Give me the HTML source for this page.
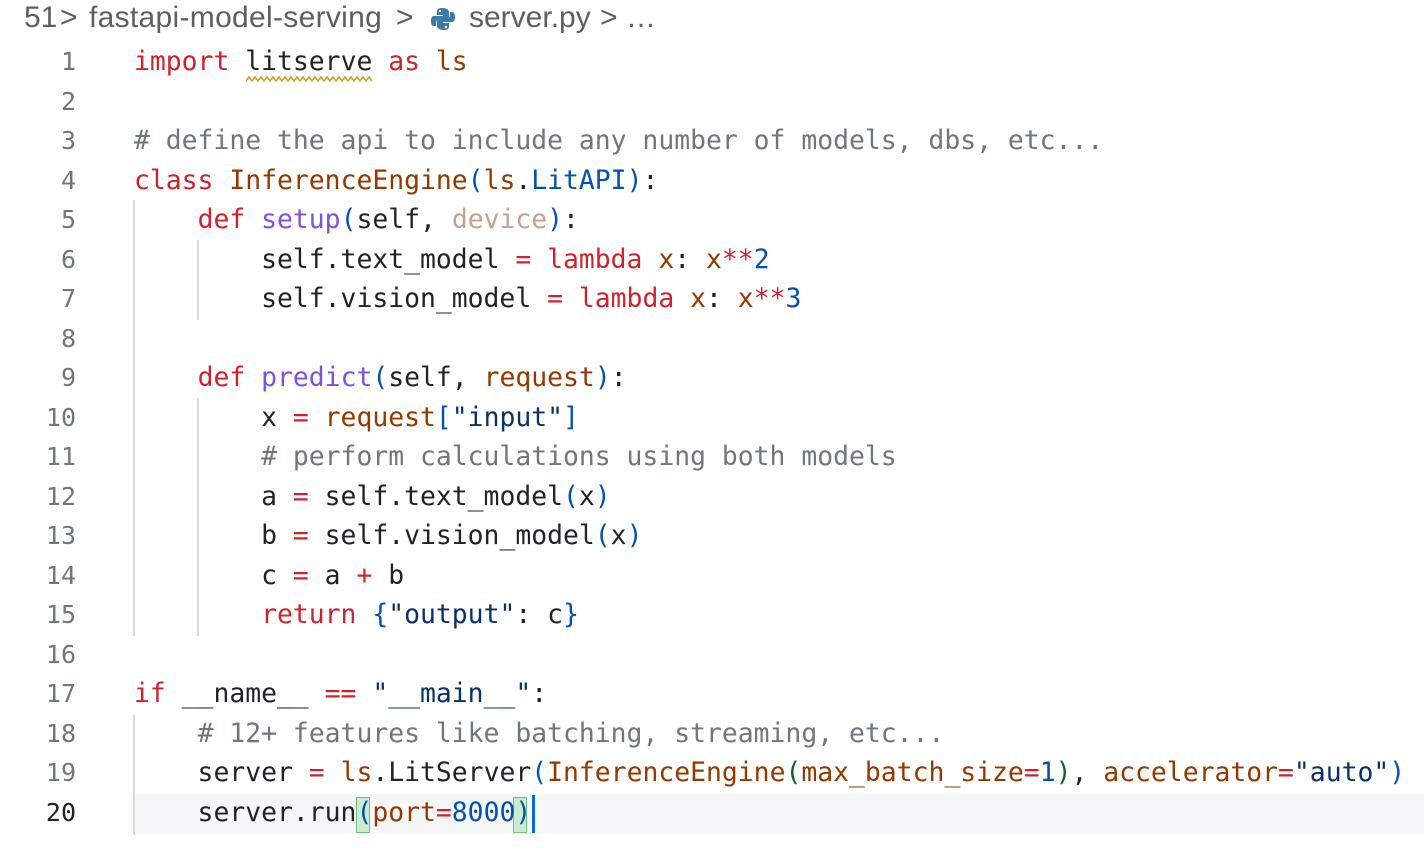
<!DOCTYPE html>
<html><head><meta charset="utf-8"><style>
html,body{margin:0;padding:0;background:#fff;width:1424px;height:848px;overflow:hidden;position:relative}
.bc{position:absolute;top:-1px;font-family:"Liberation Sans",sans-serif;font-size:30px;color:#5f5f5f;white-space:pre;line-height:38px}
.ln{position:absolute;left:0;width:76px;text-align:right;font-family:"DejaVu Sans Mono","Liberation Mono",monospace;font-size:25px;color:#6e7781;line-height:39.5px}
.cl{position:absolute;left:134px;font-family:"DejaVu Sans Mono","Liberation Mono",monospace;font-size:26.4px;color:#1f2328;white-space:pre;line-height:39.5px}
.k{color:#cf222e}.f{color:#953800}.b{color:#0550ae}.s{color:#0a3069}.c{color:#6e7781}.p{color:#8250df}.d{color:#c9a08d}.g{color:#116329}
.guide{position:absolute;width:2px;background:#d8dadd}
</style></head><body>
<div style="position:absolute;left:134px;top:794px;width:1290px;height:40px;background:#f5f6f8"></div>
<div class="bc" style="left:24px">51</div>
<div class="bc" style="left:60px">&gt;</div>
<div class="bc" style="left:89px;letter-spacing:0.3px">fastapi-model-serving</div>
<div class="bc" style="left:396px">&gt;</div>
<svg style="position:absolute;left:430px;top:6px" width="26" height="26" viewBox="0 0 26 26"><path d="M12 2c-5 0-5 2-5 4v3h6v1H4c-3 0-3 4-3 5s0 5 3 5h2v-3c0-2 2-4 4-4h6c2 0 3-1 3-3V6c0-2-2-4-7-4z" fill="#3d7aab"/><path d="M14 24c5 0 5-2 5-4v-3h-6v-1h9c3 0 3-4 3-5s0-5-3-5h-2v3c0 2-2 4-4 4h-6c-2 0-3 1-3 3v4c0 2 2 4 7 4z" fill="#3d7aab"/><circle cx="10" cy="5" r="1.2" fill="#fff"/><circle cx="16" cy="21" r="1.2" fill="#fff"/></svg>
<div class="bc" style="left:469px">server.py</div>
<div class="bc" style="left:600px">&gt;</div>
<div class="bc" style="left:626px">…</div>
<div class="guide" style="left:133px;top:200px;height:436px"></div>
<div class="guide" style="left:197px;top:240px;height:80px"></div>
<div class="guide" style="left:197px;top:398px;height:238px"></div>
<div class="guide" style="left:133px;top:715px;height:120px"></div>
<svg style="position:absolute;left:246px;top:75px" width="128" height="8"><polyline fill="none" stroke="#c99a1c" stroke-width="1.5" points="0,6 3,2 6,6 9,2 12,6 15,2 18,6 21,2 24,6 27,2 30,6 33,2 36,6 39,2 42,6 45,2 48,6 51,2 54,6 57,2 60,6 63,2 66,6 69,2 72,6 75,2 78,6 81,2 84,6 87,2 90,6 93,2 96,6 99,2 102,6 105,2 108,6 111,2 114,6 117,2 120,6 123,2 126,6"/></svg>
<div style="position:absolute;left:356px;top:797px;width:14px;height:36px;background:#cdebd3;border:1px solid #6fbf7f;box-sizing:border-box"></div>
<div style="position:absolute;left:513px;top:797px;width:14px;height:36px;background:#cdebd3;border:1px solid #6fbf7f;box-sizing:border-box"></div>
<div style="position:absolute;left:532px;top:795px;width:3px;height:38px;background:#0969da"></div>

<div class="ln" style="top:42px">1</div><div class="cl" style="top:42px"><span class="k">import</span> litserve <span class="k">as</span> <span class="f">ls</span></div>
<div class="ln" style="top:81.5px">2</div>
<div class="ln" style="top:121px">3</div><div class="cl" style="top:121px"><span class="c"># define the api to include any number of models, dbs, etc...</span></div>
<div class="ln" style="top:160.5px">4</div><div class="cl" style="top:160.5px"><span class="k">class</span> <span class="f">InferenceEngine</span><span class="b">(</span><span class="f">ls</span>.<span class="b">LitAPI</span><span class="b">)</span>:</div>
<div class="ln" style="top:200px">5</div><div class="cl" style="top:200px">    <span class="k">def</span> <span class="p">setup</span><span class="b">(</span>self, <span class="d">device</span><span class="b">)</span>:</div>
<div class="ln" style="top:239.5px">6</div><div class="cl" style="top:239.5px">        self.text_model <span class="k">=</span> <span class="k">lambda</span> <span class="f">x</span>: <span class="f">x</span><span class="k">**</span><span class="b">2</span></div>
<div class="ln" style="top:279px">7</div><div class="cl" style="top:279px">        self.vision_model <span class="k">=</span> <span class="k">lambda</span> <span class="f">x</span>: <span class="f">x</span><span class="k">**</span><span class="b">3</span></div>
<div class="ln" style="top:318.5px">8</div>
<div class="ln" style="top:358px">9</div><div class="cl" style="top:358px">    <span class="k">def</span> <span class="p">predict</span><span class="b">(</span>self, <span class="f">request</span><span class="b">)</span>:</div>
<div class="ln" style="top:397.5px">10</div><div class="cl" style="top:397.5px">        x <span class="k">=</span> <span class="f">request</span><span class="b">[</span><span class="s">"input"</span><span class="b">]</span></div>
<div class="ln" style="top:437px">11</div><div class="cl" style="top:437px">        <span class="c"># perform calculations using both models</span></div>
<div class="ln" style="top:476.5px">12</div><div class="cl" style="top:476.5px">        a <span class="k">=</span> self.text_model<span class="b">(</span>x<span class="b">)</span></div>
<div class="ln" style="top:516px">13</div><div class="cl" style="top:516px">        b <span class="k">=</span> self.vision_model<span class="b">(</span>x<span class="b">)</span></div>
<div class="ln" style="top:555.5px">14</div><div class="cl" style="top:555.5px">        c <span class="k">=</span> a <span class="k">+</span> b</div>
<div class="ln" style="top:595px">15</div><div class="cl" style="top:595px">        <span class="k">return</span> <span class="b">{</span><span class="s">"output"</span>: c<span class="b">}</span></div>
<div class="ln" style="top:634.5px">16</div>
<div class="ln" style="top:674px">17</div><div class="cl" style="top:674px"><span class="k">if</span> __name__ <span class="k">==</span> <span class="s">"__main__"</span>:</div>
<div class="ln" style="top:713.5px">18</div><div class="cl" style="top:713.5px">    <span class="c"># 12+ features like batching, streaming, etc...</span></div>
<div class="ln" style="top:753px">19</div><div class="cl" style="top:753px">    server <span class="k">=</span> <span class="f">ls</span>.LitServer<span class="b">(</span><span class="f">InferenceEngine</span><span class="g">(</span><span class="f">max_batch_size</span><span class="k">=</span><span class="b">1</span><span class="g">)</span>, <span class="f">accelerator</span><span class="k">=</span><span class="s">"auto"</span><span class="b">)</span></div>
<div class="ln" style="top:792.5px;color:#1f2328">20</div><div class="cl" style="top:792.5px">    server.run<span class="b">(</span><span class="f">port</span><span class="k">=</span><span class="b">8000</span><span class="b">)</span></div>
</body></html>
